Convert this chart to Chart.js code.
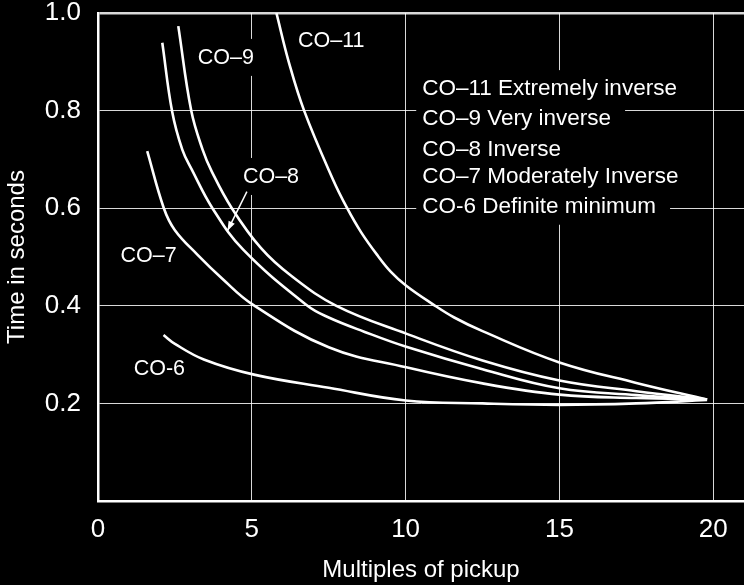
<!DOCTYPE html>
<html>
<head>
<meta charset="utf-8">
<script src="https://cdn.jsdelivr.net/npm/chart.js@4"></script>
<style>
  html, body { margin: 0; padding: 0; background: #000; }
  #chart { display: block; background: #000; }
</style>
</head>
<body>
<canvas id="chart" width="744" height="585"></canvas>
<script>
const xTickValues = [0, 5, 10, 15, 20];
const yTickValues = [0.2, 0.4, 0.6, 0.8, 1.0];

const co11X = [5.8, 6.2, 6.7, 7.63, 8.1, 8.55, 9.09, 9.53, 10.02, 10.89, 11.58, 12.5, 15, 17.5, 19.8];
const co11Y = [1.0, 0.9, 0.8, 0.66, 0.6, 0.551, 0.503, 0.469, 0.441, 0.403, 0.376, 0.348, 0.284, 0.242, 0.208];
const co9X = [2.61, 3.03, 3.4, 3.7, 4.35, 5.3, 6.27, 7.75, 10.02, 12.5, 15, 17.5, 19.8];
const co9Y = [0.973, 0.8, 0.72, 0.675, 0.6, 0.518, 0.462, 0.4, 0.343, 0.288, 0.247, 0.225, 0.208];
const co8X = [2.09, 2.41, 2.74, 3.05, 3.72, 4.72, 6.81, 7.5, 8.65, 10.02, 12.5, 15, 17.5, 19.8];
const co8Y = [0.939, 0.798, 0.72, 0.679, 0.6, 0.515, 0.4, 0.376, 0.347, 0.316, 0.27, 0.231, 0.217, 0.208];
const co7X = [1.6, 2.14, 2.5, 3.23, 4.05, 5.02, 7.5, 10.02, 12.5, 15, 17.5, 19.8];
const co7Y = [0.717, 0.6, 0.555, 0.505, 0.455, 0.403, 0.315, 0.274, 0.241, 0.218, 0.211, 0.208];
const co6X = [2.13, 2.5, 3.44, 5.07, 7.5, 10, 12.5, 15, 17.5, 19.8];
const co6Y = [0.34, 0.322, 0.29, 0.259, 0.232, 0.206, 0.2, 0.197, 0.2, 0.207];

// labels written on the plot, placed in data units
const curveLabels = [
  { text: 'CO–11', x: 6.5, y: 0.942 },
  { text: 'CO–9', x: 3.24, y: 0.908 },
  { text: 'CO–8', x: 4.71, y: 0.664 },
  { text: 'CO–7', x: 0.73, y: 0.502 },
  { text: 'CO-6', x: 1.16, y: 0.27 }
];
const legendLines = [
  { text: 'CO–11 Extremely inverse', y: 0.844 },
  { text: 'CO–9 Very inverse', y: 0.783 },
  { text: 'CO–8 Inverse', y: 0.72 },
  { text: 'CO–7 Moderately Inverse', y: 0.664 },
  { text: 'CO-6 Definite minimum', y: 0.603 }
];
const legendX = 10.54;
const arrowFrom = { x: 4.84, y: 0.634 };
const arrowTo = { x: 4.21, y: 0.554 };

const FONT = "'Liberation Sans', Arial, Helvetica, sans-serif";

const series = [
  { name: 'CO-11', x: co11X, y: co11Y },
  { name: 'CO-9', x: co9X, y: co9Y },
  { name: 'CO-8', x: co8X, y: co8Y },
  { name: 'CO-7', x: co7X, y: co7Y },
  { name: 'CO-6', x: co6X, y: co6Y }
];

function drawBoxedText(ctx, text, px, py) {
  const w = ctx.measureText(text).width;
  ctx.fillStyle = '#000';
  ctx.fillRect(px - 6, py - 19, w + 20, 37);
  ctx.fillStyle = '#fff';
  ctx.fillText(text, px, py);
}

const labelPlugin = {
  id: 'curveText',
  beforeDatasetsDraw(chart) {
    const { ctx, scales: { x, y } } = chart;
    ctx.save();
    ctx.textBaseline = 'middle';
    ctx.textAlign = 'left';
    ctx.font = '21.5px ' + FONT;
    curveLabels.forEach(l => {
      drawBoxedText(ctx, l.text, x.getPixelForValue(l.x), y.getPixelForValue(l.y));
    });
    ctx.font = '22.5px ' + FONT;
    legendLines.forEach(l => {
      drawBoxedText(ctx, l.text, x.getPixelForValue(legendX), y.getPixelForValue(l.y));
    });
    ctx.restore();
  },
  afterDatasetsDraw(chart) {
    const { ctx, scales: { x, y } } = chart;
    const x1 = x.getPixelForValue(arrowFrom.x), y1 = y.getPixelForValue(arrowFrom.y);
    const x2 = x.getPixelForValue(arrowTo.x), y2 = y.getPixelForValue(arrowTo.y);
    const a = Math.atan2(y2 - y1, x2 - x1);
    ctx.save();
    ctx.strokeStyle = '#fff';
    ctx.fillStyle = '#fff';
    ctx.lineWidth = 1.5;
    ctx.beginPath();
    ctx.moveTo(x1, y1);
    ctx.lineTo(x2, y2);
    ctx.stroke();
    ctx.beginPath();
    ctx.moveTo(x2, y2);
    ctx.lineTo(x2 - 10 * Math.cos(a - 0.35), y2 - 10 * Math.sin(a - 0.35));
    ctx.lineTo(x2 - 10 * Math.cos(a + 0.35), y2 - 10 * Math.sin(a + 0.35));
    ctx.closePath();
    ctx.fill();
    ctx.restore();
  }
};

new Chart(document.getElementById('chart'), {
  type: 'line',
  data: {
    datasets: series.map(s => ({
      label: s.name,
      data: s.x.map((v, i) => ({ x: v, y: s.y[i] })),
      borderColor: '#fff',
      borderWidth: 2.6,
      pointRadius: 0,
      fill: false,
      tension: 0.4
    }))
  },
  options: {
    responsive: false,
    animation: false,
    layout: { padding: { top: 13, right: 0, bottom: 0, left: 0 } },
    plugins: { legend: { display: false }, tooltip: { enabled: false } },
    scales: {
      x: {
        type: 'linear',
        min: 0,
        max: 21,
        afterBuildTicks: s => { s.ticks = xTickValues.map(v => ({ value: v })); },
        afterFit: s => { s.height = 84; s.paddingLeft = 0; s.paddingRight = 0; },
        grid: { color: 'rgba(255,255,255,0.85)', lineWidth: 1, drawTicks: false },
        border: { color: '#fff', width: 2.5 },
        ticks: { color: '#fff', font: { family: FONT, size: 26 }, padding: 13, maxRotation: 0 },
        title: { display: true, text: 'Multiples of pickup', color: '#fff', font: { family: FONT, size: 24 }, padding: { top: 0, bottom: 0 } }
      },
      y: {
        min: 0,
        max: 1,
        afterBuildTicks: s => { s.ticks = yTickValues.map(v => ({ value: v })); },
        afterFit: s => { s.width = 98; s.paddingTop = 0; s.paddingBottom = 0; },
        grid: {
          color: 'rgba(255,255,255,0.85)',
          lineWidth: c => (c.tick && c.tick.value === 1 ? 2.5 : 1),
          drawTicks: false
        },
        border: { color: '#fff', width: 2.5 },
        ticks: { color: '#fff', font: { family: FONT, size: 26 }, padding: 17, callback: v => v.toFixed(1) },
        title: { display: true, text: 'Time in seconds', color: '#fff', font: { family: FONT, size: 24 }, padding: { top: 3, bottom: 0 } }
      }
    }
  },
  plugins: [labelPlugin]
});
</script>
</body>
</html>
